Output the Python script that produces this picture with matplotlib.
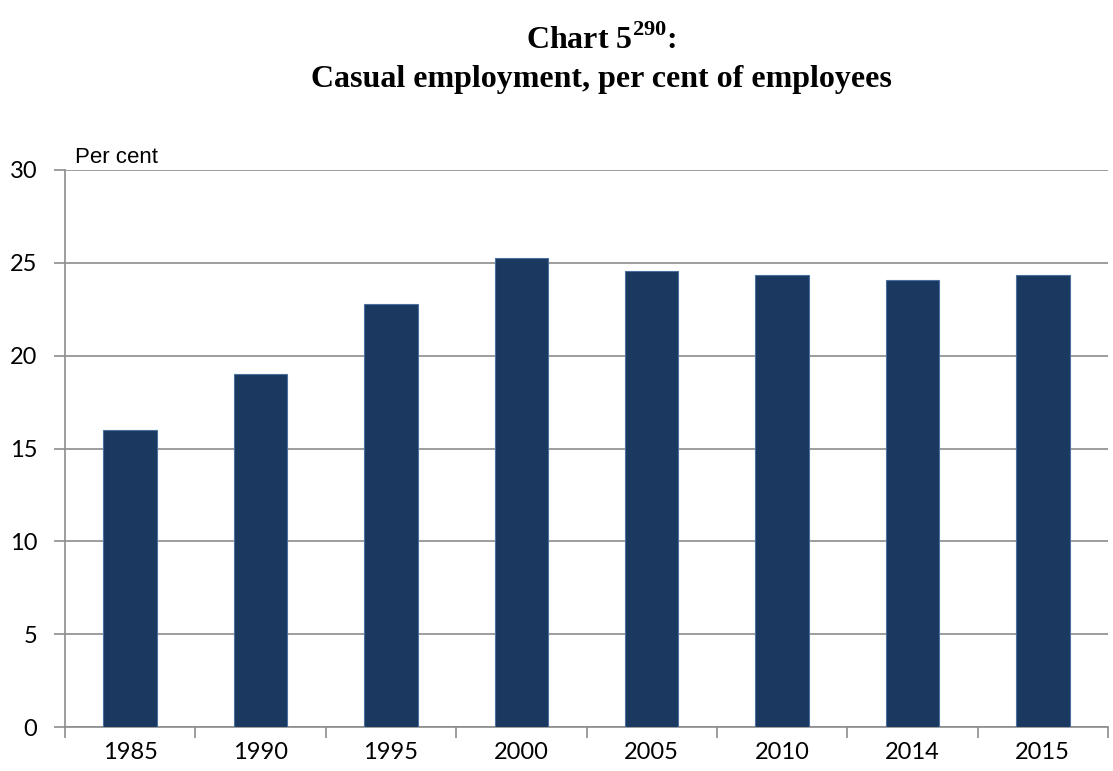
import numpy as np
import matplotlib.pyplot as plt

plt.rcParams['mathtext.fontset'] = 'custom'
plt.rcParams['mathtext.bf'] = 'Liberation Serif:bold'
plt.rcParams['mathtext.rm'] = 'Liberation Serif'

years = ['1985', '1990', '1995', '2000', '2005', '2010', '2014', '2015']
casual_pct = [16.0, 19.0, 22.8, 25.25, 24.55, 24.35, 24.1, 24.35]

fig = plt.figure(figsize=(11.13, 7.71), dpi=100)
ax = fig.add_axes([65 / 1113, 1 - 727 / 771, 1043 / 1113, 557 / 771])

x = np.arange(len(years))
ax.bar(x, casual_pct, width=0.41, color='#1a3860', edgecolor='#4a6fa0',
       linewidth=0.8, zorder=3)

ax.set_xlim(-0.5, len(years) - 0.5)
ax.set_ylim(0, 30)
ax.set_yticks(range(0, 31, 5))
ax.yaxis.grid(True, color='#8c8c8c', linewidth=1.2, zorder=0)

# category labels centred, tick marks on the boundaries
ax.set_xticks(x)
ax.set_xticklabels(years, family='Lato', fontsize=17)
ax.set_xticks(np.arange(len(years) + 1) - 0.5, minor=True)
ax.tick_params(axis='x', which='major', length=0, pad=11)
ax.tick_params(axis='x', which='minor', length=8, width=1.2, color='#8c8c8c')
ax.tick_params(axis='y', length=8, width=1.2, color='#8c8c8c', pad=12,
               labelsize=17)
for lab in ax.get_yticklabels():
    lab.set_family('Lato')

for side in ['top', 'right']:
    ax.spines[side].set_visible(False)
for side in ['left', 'bottom']:
    ax.spines[side].set_color('#8c8c8c')
    ax.spines[side].set_linewidth(1.2)

ax.text(0.01, 1.003, 'Per cent', transform=ax.transAxes, fontsize=16,
        family='Liberation Sans', va='bottom', ha='left')

fig.text(0.54, 1 - 40 / 771, r'Chart 5$^{\mathbf{290}}$:', ha='center',
         va='center', family='Liberation Serif', fontweight='bold', fontsize=23)
fig.text(0.54, 1 - 80 / 771, 'Casual employment, per cent of employees',
         ha='center', va='center', family='Liberation Serif',
         fontweight='bold', fontsize=23)

fig.savefig('out.png', dpi=100)
